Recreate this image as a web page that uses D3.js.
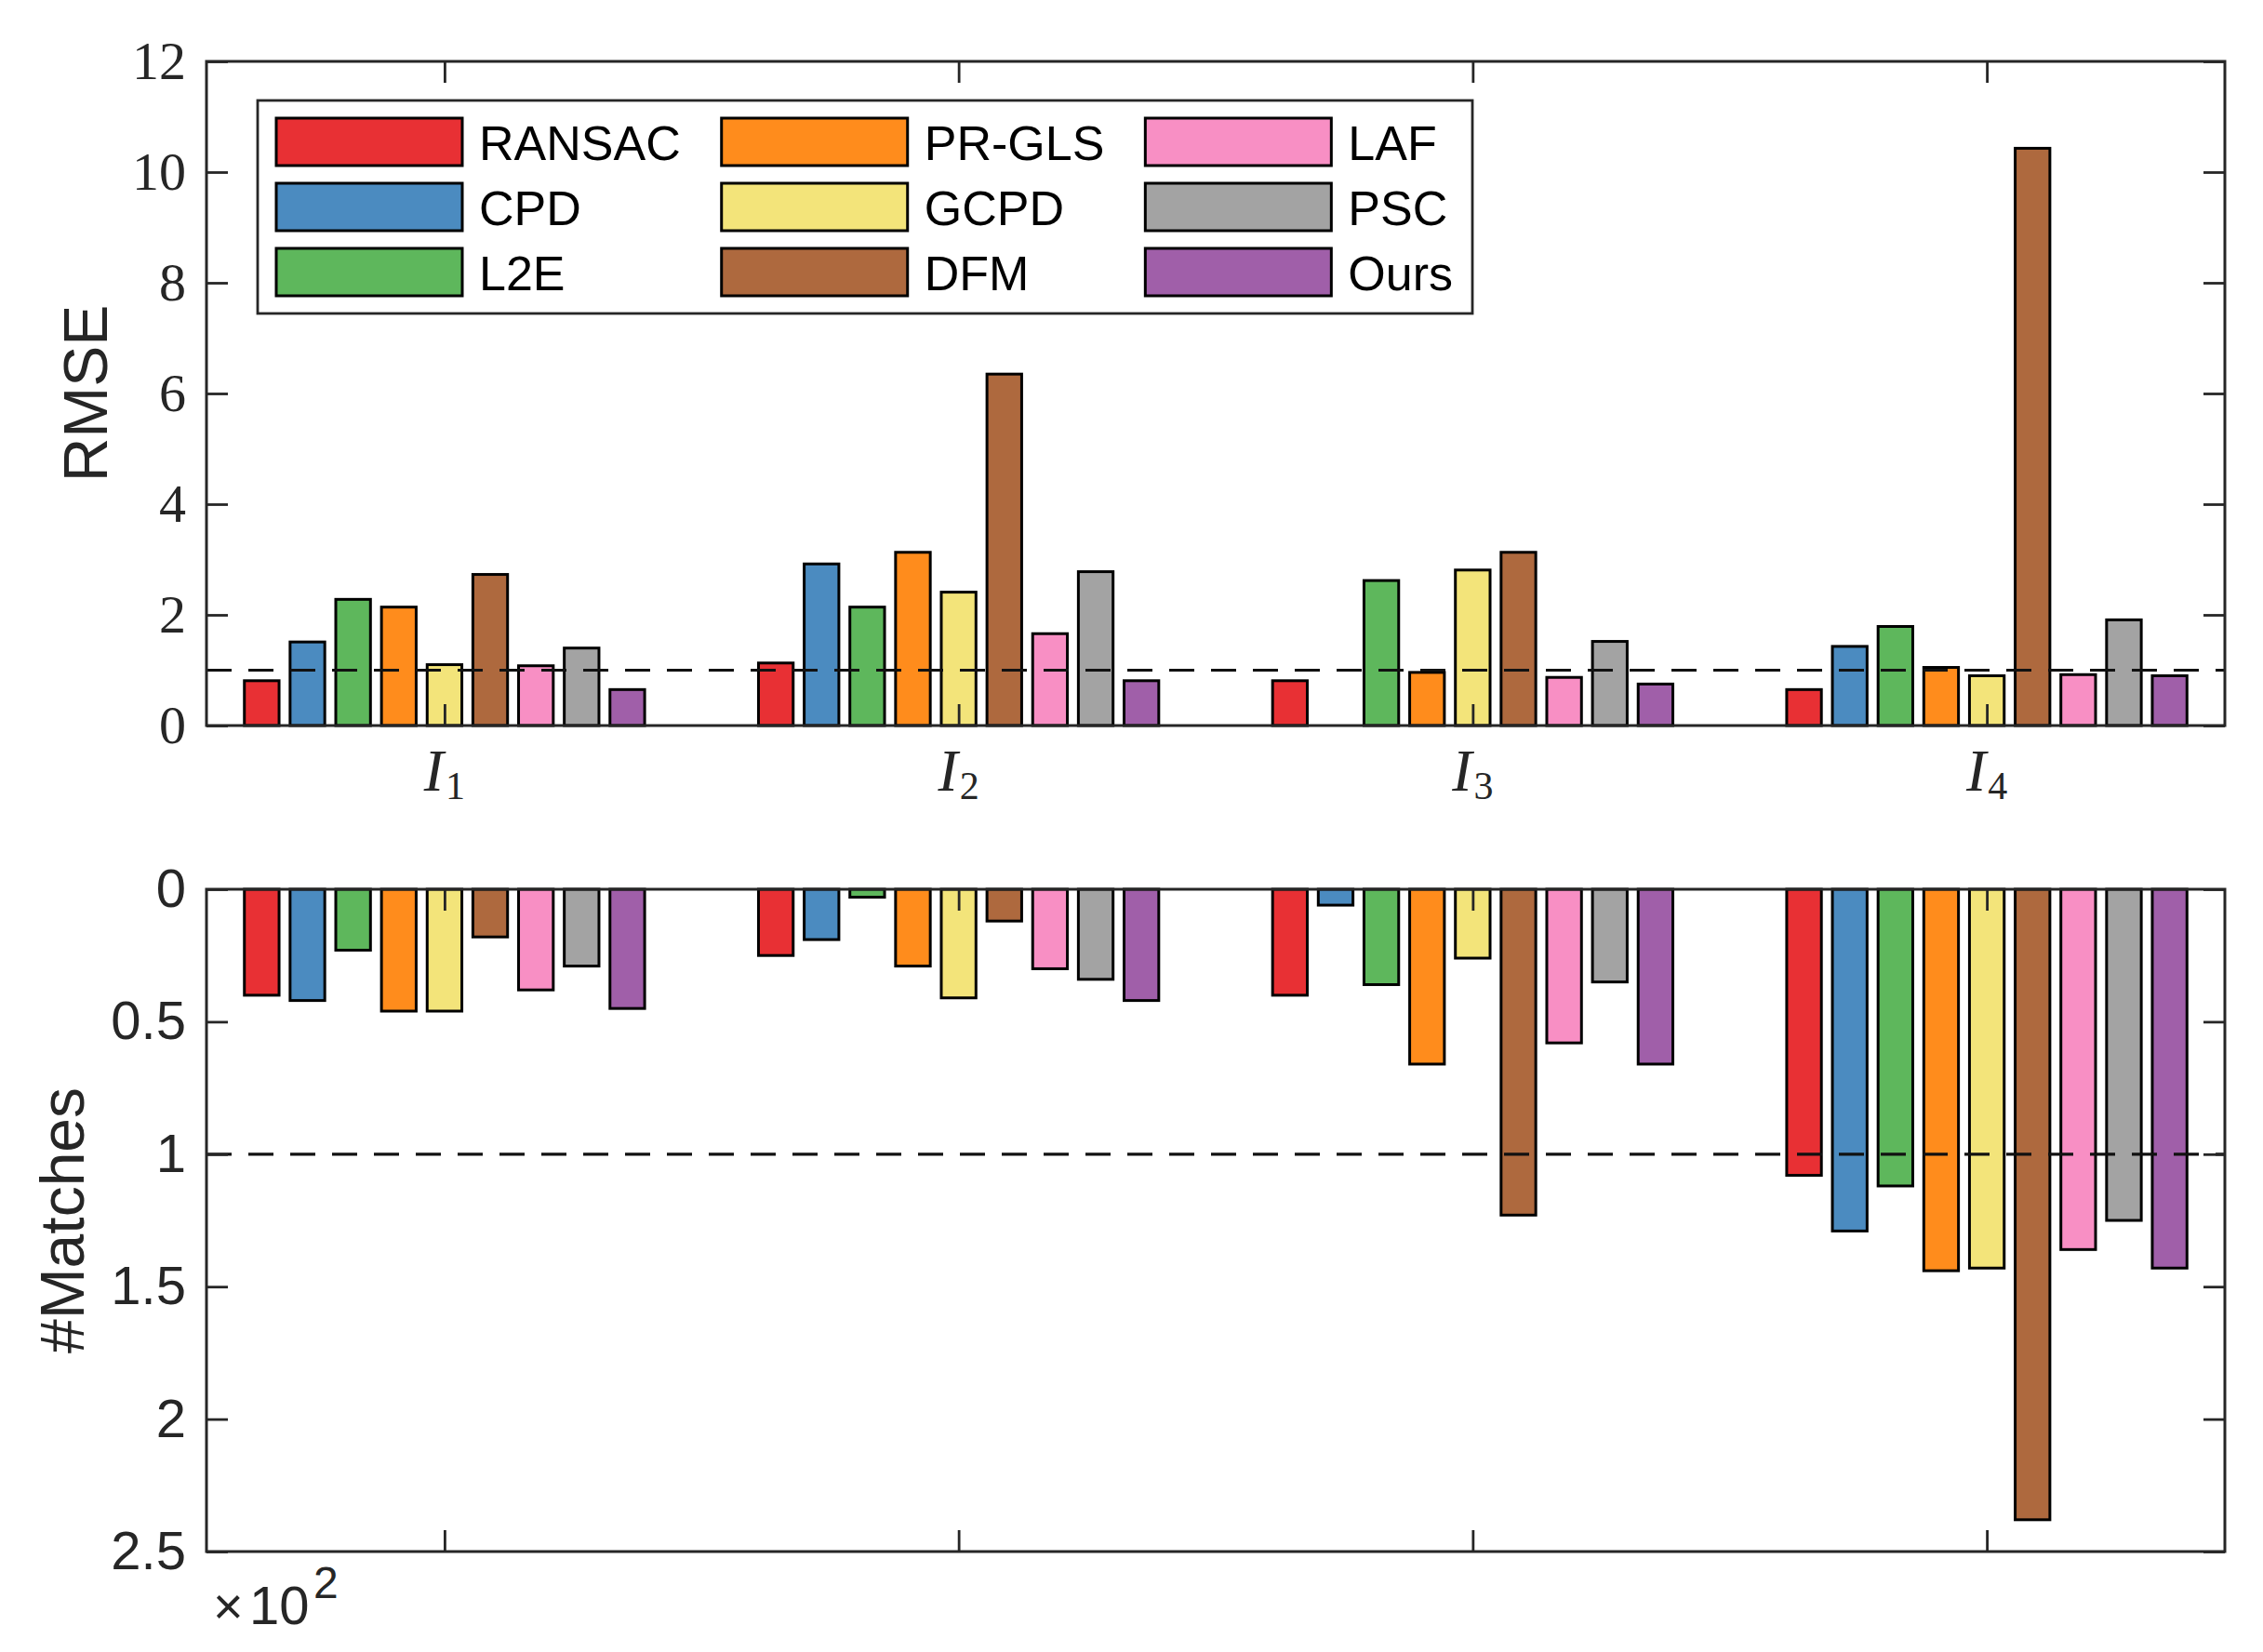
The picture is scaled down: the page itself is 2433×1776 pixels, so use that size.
<!DOCTYPE html>
<html>
<head>
<meta charset="utf-8">
<script src="https://cdn.jsdelivr.net/npm/d3@7"></script>
<style>
  body { margin: 0; background: #fff; }
  svg { display: block; }
</style>
</head>
<body>
<div id="chart"></div>
<script>
// methods, in legend / bar order
var methods = ['RANSAC', 'CPD', 'L2E', 'PR-GLS', 'GCPD', 'DFM', 'LAF', 'PSC', 'Ours'];
var colors = ['#E83034', '#4B8BC0', '#5EB75C', '#FF8C1C', '#F3E47A', '#AE693E', '#F88FC4', '#A3A3A3', '#A05FA9'];
var categories = ['I1', 'I2', 'I3', 'I4'];

// RMSE per image, one value per method
var rmse = [
    [0.81, 1.51, 2.28, 2.14, 1.10, 2.73, 1.08, 1.40, 0.65],
    [1.13, 2.92, 2.14, 3.13, 2.41, 6.35, 1.66, 2.78, 0.81],
    [0.81, 0.00, 2.62, 0.96, 2.81, 3.13, 0.87, 1.52, 0.75],
    [0.65, 1.43, 1.79, 1.05, 0.90, 10.43, 0.92, 1.91, 0.90]
];
// #Matches per image (x10^2), one value per method
var matches = [
    [0.40, 0.42, 0.23, 0.46, 0.46, 0.18, 0.38, 0.29, 0.45],
    [0.25, 0.19, 0.03, 0.29, 0.41, 0.12, 0.30, 0.34, 0.42],
    [0.40, 0.06, 0.36, 0.66, 0.26, 1.23, 0.58, 0.35, 0.66],
    [1.08, 1.29, 1.12, 1.44, 1.43, 2.38, 1.36, 1.25, 1.43]
];
var rmseTicks = [0, 2, 4, 6, 8, 10, 12];
var matchTicks = [0, 0.5, 1, 1.5, 2, 2.5];
var rmseRef = 1, matchRef = 1;

var W = 2433, H = 1776;
var AX = '#262626';
var TICK = 23;
var left = 222, right = 2392;

var svg = d3.select('#chart').append('svg')
    .attr('width', W).attr('height', H);

var x = d3.scaleLinear().domain([0.537, 4.463]).range([left, right]);
var nS = methods.length;
var slot = 0.8 / nS;               // group width 0.8 like matlab
var barW = (x(1 + slot * 0.8) - x(1));

function barX(ci, si) {
    return x(ci + 1 + (si - (nS - 1) / 2) * slot) - barW / 2;
}

function panel(opt) {
    var y = d3.scaleLinear().domain(opt.domain).range(opt.range);
    var g = svg.append('g');

    // bars
    opt.data.forEach(function(row, ci) {
        g.selectAll(null).data(row).enter().append('rect')
            .attr('x', function(d, si) { return barX(ci, si) + 1; })
            .attr('width', barW - 2)
            .attr('y', function(d) { return Math.min(y(0), y(d)); })
            .attr('height', function(d) { return Math.abs(y(d) - y(0)); })
            .attr('fill', function(d, si) { return colors[si]; })
            .attr('stroke', '#000')
            .attr('stroke-width', 3);
    });

    // reference line
    g.append('line')
        .attr('x1', left).attr('x2', right)
        .attr('y1', y(opt.ref)).attr('y2', y(opt.ref))
        .attr('stroke', '#111').attr('stroke-width', 3.2)
        .attr('stroke-dasharray', '27,18');

    var yTop = Math.min(opt.range[0], opt.range[1]);
    var yBot = Math.max(opt.range[0], opt.range[1]);

    // y axis left with labels, right mirrored
    var ya = g.append('g').attr('transform', 'translate(' + left + ',0)')
        .call(d3.axisLeft(y).tickValues(opt.ticks).tickSizeInner(-TICK).tickSizeOuter(0)
            .tickPadding(22).tickFormat(d3.format('~g')));
    ya.selectAll('text')
        .attr('font-family', opt.tickFont)
        .attr('font-size', 58)
        .attr('fill', AX);
    g.append('g').attr('transform', 'translate(' + right + ',0)')
        .call(d3.axisRight(y).tickValues(opt.ticks).tickSizeInner(-TICK).tickSizeOuter(0).tickFormat(''));

    // x ticks bottom and top (inward)
    g.append('g').attr('transform', 'translate(0,' + yBot + ')')
        .call(d3.axisBottom(x).tickValues([1, 2, 3, 4]).tickSizeInner(-TICK).tickSizeOuter(0).tickFormat(''));
    g.append('g').attr('transform', 'translate(0,' + yTop + ')')
        .call(d3.axisTop(x).tickValues([1, 2, 3, 4]).tickSizeInner(-TICK).tickSizeOuter(0).tickFormat(''));

    g.selectAll('.domain').remove();
    g.selectAll('.tick line').attr('stroke', AX).attr('stroke-width', 2.8);

    // box
    g.append('rect')
        .attr('x', left).attr('y', yTop)
        .attr('width', right - left).attr('height', yBot - yTop)
        .attr('fill', 'none').attr('stroke', AX).attr('stroke-width', 3);

    // y label
    g.append('text')
        .attr('transform', 'translate(' + opt.labelX + ',' + (yTop + yBot) / 2 + ') rotate(-90)')
        .attr('text-anchor', 'middle')
        .attr('font-family', 'Liberation Sans, Arial, sans-serif')
        .attr('font-size', 66)
        .attr('fill', AX)
        .text(opt.label);
    return y;
}

panel({
    data: rmse, domain: [0, 12], range: [780, 66], ticks: rmseTicks, ref: rmseRef,
    tickFont: 'Liberation Serif, Times New Roman, serif', label: 'RMSE', labelX: 115
});
panel({
    data: matches, domain: [0, 2.5], range: [956, 1668], ticks: matchTicks, ref: matchRef,
    tickFont: 'Liberation Sans, Arial, sans-serif', label: '#Matches', labelX: 90
});

// category labels under the top panel: I with subscript
categories.forEach(function(c, i) {
    var t = svg.append('text')
        .attr('x', x(i + 1)).attr('y', 850)
        .attr('text-anchor', 'middle')
        .attr('font-family', 'Liberation Serif, Times New Roman, serif')
        .attr('fill', AX);
    t.append('tspan').attr('font-size', 64).attr('font-style', 'italic').text(c.charAt(0));
    t.append('tspan').attr('font-size', 42).attr('dy', 9).attr('dx', 2).text(c.slice(1));
});

// exponent label of the bottom axis
var ex = svg.append('g').attr('font-family', 'Liberation Sans, Arial, sans-serif').attr('fill', AX);
ex.append('text').attr('x', 229).attr('y', 1746).attr('font-size', 56).text('\u00d7');
ex.append('text').attr('x', 268).attr('y', 1746).attr('font-size', 58).text('10');
ex.append('text').attr('x', 337).attr('y', 1718).attr('font-size', 48).text('2');

// legend, 3 rows column-major
var leg = svg.append('g');
var legBox = leg.append('rect')
    .attr('x', 277).attr('y', 108).attr('height', 229)
    .attr('fill', '#fff').attr('stroke', AX).attr('stroke-width', 2.8);
var rows = 3, swW = 200, swH = 51, rowY0 = 127, rowGap = 70;
var colX = 297;
for (var col = 0; col < Math.ceil(methods.length / rows); col++) {
    var maxW = 0;
    for (var r = 0; r < rows; r++) {
        var k = col * rows + r;
        if (k >= methods.length) break;
        var yy = rowY0 + r * rowGap;
        leg.append('rect')
            .attr('x', colX).attr('y', yy).attr('width', swW).attr('height', swH)
            .attr('fill', colors[k]).attr('stroke', '#000').attr('stroke-width', 3);
        var tx = leg.append('text')
            .attr('x', colX + swW + 18).attr('y', yy + swH / 2 + 19)
            .attr('font-family', 'Liberation Sans, Arial, sans-serif')
            .attr('font-size', 52).attr('fill', '#000')
            .text(methods[k]);
        maxW = Math.max(maxW, tx.node().getComputedTextLength());
    }
    colX += swW + 18 + maxW + (col < 2 ? 44 : 0);
}
legBox.attr('width', colX + 21 - 277);
</script>
</body>
</html>
